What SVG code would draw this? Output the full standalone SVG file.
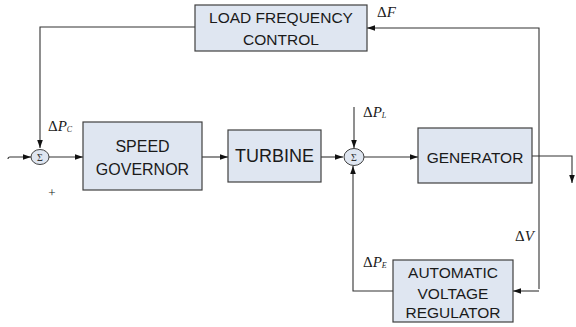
<svg xmlns="http://www.w3.org/2000/svg" width="576" height="327" viewBox="0 0 576 327">
<defs>
<style>
.box{fill:#dfe6f1;stroke:#404040;stroke-width:1.2}
.sum{fill:#dfe6f1;stroke:#404040;stroke-width:1}
.lbl{font-family:"Liberation Sans",Arial,sans-serif;font-size:15.5px;fill:#1a1a1a;text-anchor:middle}
.sig{font-family:"Liberation Serif","Times New Roman",serif;font-size:15px;fill:#1a1a1a}
.sub{font-size:8px}
.sg{font-family:"Liberation Serif","Times New Roman",serif;font-size:10px;fill:#333;text-anchor:middle}
.ln{fill:none;stroke:#333;stroke-width:1.1}
</style>
<marker id="ah" viewBox="0 0 10 10" refX="10" refY="5" markerWidth="8" markerHeight="8" markerUnits="userSpaceOnUse" orient="auto">
<path d="M0,1.5 L10,5 L0,8.5 z" fill="#111"/>
</marker>
</defs>
<rect width="576" height="327" fill="#fff"/>
<g id="connectors">
<path class="ln" d="M8,159 Q8,157 10,157 L31,157" marker-end="url(#ah)"/>
<path class="ln" d="M195,27 L40,27 L40,148" marker-end="url(#ah)"/>
<path class="ln" d="M49,157 L83,157" marker-end="url(#ah)"/>
<path class="ln" d="M202,157 L228,157" marker-end="url(#ah)"/>
<path class="ln" d="M321,157 L343,157" marker-end="url(#ah)"/>
<path class="ln" d="M354,107 L354,148" marker-end="url(#ah)"/>
<path class="ln" d="M364,157 L418,157" marker-end="url(#ah)"/>
<path class="ln" d="M532,156 L572,156 L572,183" marker-end="url(#ah)"/>
<path class="ln" d="M539,289 L539,28 L367,28" marker-end="url(#ah)"/>
<path class="ln" d="M539,291 L513,291" marker-end="url(#ah)"/>
<path class="ln" d="M393,291 L353,291 L353,166" marker-end="url(#ah)"/>
</g>
<g id="sum1">
<ellipse class="sum" cx="40" cy="157" rx="9" ry="7.5"/>
<text class="sg" x="40" y="160.5">Σ</text>
</g>
<g id="sum2">
<ellipse class="sum" cx="354" cy="157" rx="10" ry="8.5"/>
<text class="sg" x="354" y="160.5">Σ</text>
</g>
<g id="lfc">
<rect class="box" x="195" y="5" width="172" height="46"/>
<text class="lbl" x="281" y="23">LOAD FREQUENCY</text>
<text class="lbl" x="281" y="45">CONTROL</text>
</g>
<g id="governor">
<rect class="box" x="83" y="122" width="119" height="68"/>
<text class="lbl" x="142.5" y="152" style="font-size:16px">SPEED</text>
<text class="lbl" x="142.5" y="175" style="font-size:16px">GOVERNOR</text>
</g>
<g id="turbine">
<rect class="box" x="228" y="130" width="93" height="52"/>
<text class="lbl" x="274.5" y="162" style="font-size:18px">TURBINE</text>
</g>
<g id="generator">
<rect class="box" x="418" y="128" width="114" height="55"/>
<text class="lbl" x="475" y="163">GENERATOR</text>
</g>
<g id="avr">
<rect class="box" x="393" y="260" width="120" height="62"/>
<text class="lbl" x="453" y="278">AUTOMATIC</text>
<text class="lbl" x="453" y="299">VOLTAGE</text>
<text class="lbl" x="453" y="318">REGULATOR</text>
</g>
<g id="labels">
<text class="sig" x="48" y="131">Δ<tspan font-style="italic">P</tspan><tspan class="sub" font-style="italic" dy="1">C</tspan></text>
<text class="sig" x="363" y="117">Δ<tspan font-style="italic">P</tspan><tspan class="sub" font-style="italic" dy="1">L</tspan></text>
<text class="sig" x="363" y="267">Δ<tspan font-style="italic">P</tspan><tspan class="sub" font-style="italic" dy="1">E</tspan></text>
<text class="sig" x="377" y="17">Δ<tspan font-style="italic">F</tspan></text>
<text class="sig" x="515" y="241">Δ<tspan font-style="italic">V</tspan></text>
<text class="sig" x="52" y="197" style="font-size:13px" text-anchor="middle">+</text>
</g>
</svg>
